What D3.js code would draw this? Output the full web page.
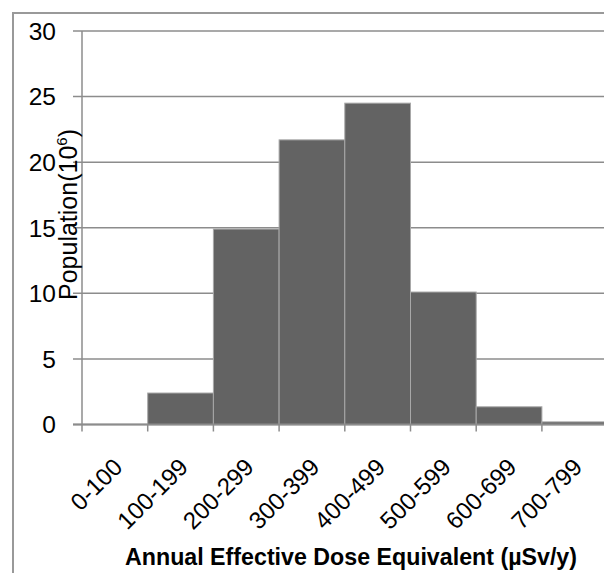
<!DOCTYPE html>
<html>
<head>
<meta charset="utf-8">
<script src="https://cdn.jsdelivr.net/npm/d3@7"></script>
<style>
  body { margin: 0; background: #ffffff; }
  svg { display: block; font-family: "Liberation Sans", Arial, sans-serif; }
</style>
</head>
<body>
<script>

// global variables
var w = 604;

var h = 573;

var chartPad = {
  top: 31,
  bottom: 148.5,
  left: 82,
  right: -3.6
};

// dose ranges (x categories) and population per range, in millions
var doseRanges = ["0-100", "100-199", "200-299", "300-399", "400-499", "500-599", "600-699", "700-799"];

var population = [0, 2.4, 14.9, 21.7, 24.5, 10.1, 1.35, 0.2];

// y tick values
var yTicks = [0, 5, 10, 15, 20, 25, 30];

var gridColor = "#8c8c8c";

var barColor = "#636363";


window.onload = function() {

  var svg = d3.select("body")
              .append("svg")
              .attr("width", w)
              .attr("height", h);

  // outer frame, only left and top edges show in the window
  svg.append("rect")
     .attr("x", 13)
     .attr("y", 13)
     .attr("width", w + 20)
     .attr("height", h + 20)
     .attr("fill", "none")
     .attr("stroke", "#999999")
     .attr("stroke-width", 2);

  var xScale = d3.scaleBand()
                 .domain(doseRanges)
                 .range([chartPad.left, w - chartPad.right])
                 .padding(0);

  var yScale = d3.scaleLinear()
                 .domain([0, 30])
                 .range([h - chartPad.bottom, chartPad.top]);

  drawGrid(svg, xScale, yScale);

  drawBars(svg, xScale, yScale);

  drawAxes(svg, xScale, yScale);

  addLabels(svg, xScale, yScale);

};


function drawGrid(svg, xScale, yScale) {
  // horizontal gridlines, sticking out left of the axis as ticks
  svg.selectAll(".grid")
     .data(yTicks)
     .enter()
     .append("line")
     .attr("class", "grid")
     .attr("x1", chartPad.left - 9)
     .attr("x2", w)
     .attr("y1", function(d) { return yScale(d); })
     .attr("y2", function(d) { return yScale(d); })
     .attr("stroke", gridColor)
     .attr("stroke-width", 1.5);
};


function drawBars(svg, xScale, yScale) {
  svg.selectAll(".bar")
     .data(population)
     .enter()
     .append("rect")
     .attr("class", "bar")
     .attr("x", function(d, i) { return xScale(doseRanges[i]); })
     .attr("y", function(d) { return yScale(d); })
     .attr("width", xScale.bandwidth())
     .attr("height", function(d) { return yScale(0) - yScale(d); })
     .attr("fill", barColor)
     .attr("stroke", "#a8a8a8")
     .attr("stroke-width", function(d) { return d > 0 ? 1 : 0; });
};


function drawAxes(svg, xScale, yScale) {
  var y0 = yScale(0);

  // y axis line
  svg.append("line")
     .attr("x1", chartPad.left)
     .attr("x2", chartPad.left)
     .attr("y1", yScale(30))
     .attr("y2", y0 + 7)
     .attr("stroke", gridColor)
     .attr("stroke-width", 1.5);

  // x axis line
  svg.append("line")
     .attr("x1", chartPad.left - 9)
     .attr("x2", w)
     .attr("y1", y0)
     .attr("y2", y0)
     .attr("stroke", gridColor)
     .attr("stroke-width", 2);

  // x ticks between the bands
  svg.selectAll(".xtick")
     .data(doseRanges.slice(1))
     .enter()
     .append("line")
     .attr("class", "xtick")
     .attr("x1", function(d) { return xScale(d); })
     .attr("x2", function(d) { return xScale(d); })
     .attr("y1", y0)
     .attr("y2", y0 + 7)
     .attr("stroke", gridColor)
     .attr("stroke-width", 1.5);

  // y tick labels
  svg.selectAll(".ylab")
     .data(yTicks)
     .enter()
     .append("text")
     .attr("class", "ylab")
     .attr("x", 56)
     .attr("y", function(d) { return yScale(d); })
     .attr("dy", "0.36em")
     .attr("text-anchor", "end")
     .attr("font-size", "24.5px")
     .attr("fill", "#000")
     .text(function(d) { return d; });

  // x tick labels, turned 45 degrees
  svg.selectAll(".xlab")
     .data(doseRanges)
     .enter()
     .append("text")
     .attr("class", "xlab")
     .attr("text-anchor", "end")
     .attr("font-size", "24px")
     .attr("fill", "#000")
     .attr("transform", function(d) {
         var cx = xScale(d) + xScale.bandwidth() / 2 + 9;
         return "translate(" + cx + "," + (y0 + 44) + ") rotate(-45)";
     })
     .text(function(d) { return d; });
};


function addLabels(svg, xScale, yScale) {
  // x-axis title, squeezed a little like the original
  svg.append("text")
     .attr("x", 125)
     .attr("y", 565)
     .attr("text-anchor", "start")
     .attr("font-size", "24.5px")
     .attr("font-weight", "bold")
     .attr("textLength", 452)
     .attr("lengthAdjust", "spacingAndGlyphs")
     .attr("fill", "#000")
     .text("Annual Effective Dose Equivalent (µSv/y)");

  // y-axis title with superscript
  var ylab = svg.append("text")
                .attr("transform", "translate(77,300) rotate(-90)")
                .attr("text-anchor", "start")
                .attr("font-size", "25px")
                .attr("fill", "#000");

  ylab.append("tspan").text("Population(10");

  ylab.append("tspan")
      .attr("font-size", "15px")
      .attr("dy", "-10")
      .text("6");

  ylab.append("tspan")
      .attr("dy", "10")
      .text(")");
};

</script>
</body>
</html>
